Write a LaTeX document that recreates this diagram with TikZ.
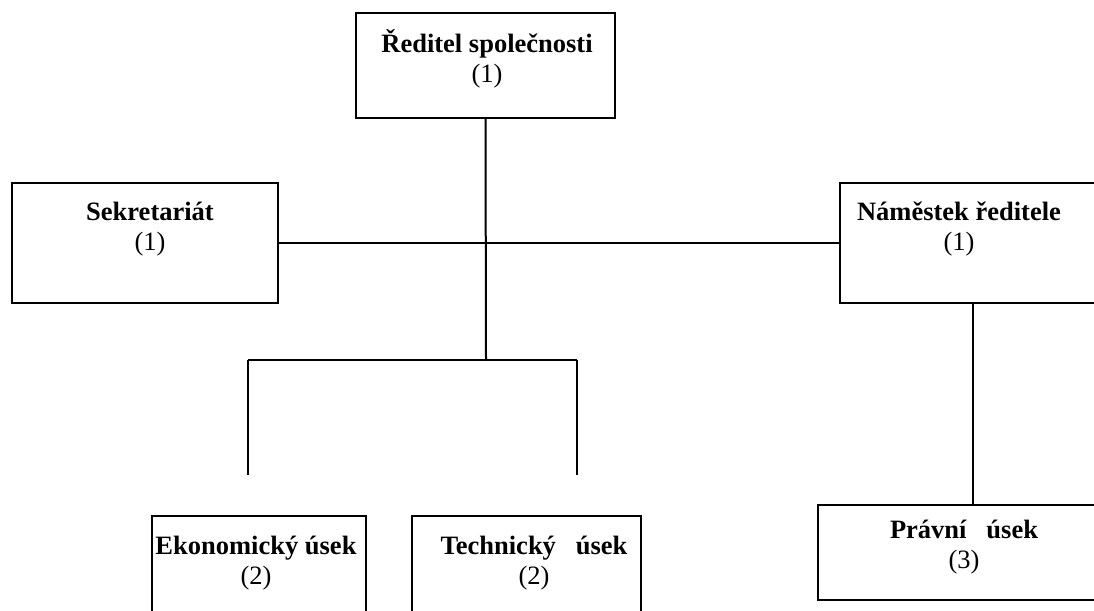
\documentclass[tikz,border=0pt]{standalone}
\usepackage{fontspec}
\setmainfont{Liberation Serif}
\begin{document}
\begin{tikzpicture}[x=1pt,y=-1pt,
  box/.style={draw, line width=2pt, rectangle, inner sep=0pt},
  lbl/.style={font=\fontsize{26.5}{30}\selectfont, align=center, inner sep=0pt},
  conn/.style={line width=2pt}]
\useasboundingbox (0,0) rectangle (1094,610);
\clip (0,0) rectangle (1094,610);
% boxes
\node[box, minimum width=259pt, minimum height=105pt] (dir) at (485.5,65.5) {};
\node[box, minimum width=266pt, minimum height=120pt] (sek) at (145,243) {};
\node[box, minimum width=266pt, minimum height=120pt] (nam) at (973,243) {};
\node[box, minimum width=214pt, minimum height=130pt] (eko) at (259,581) {};
\node[box, minimum width=229pt, minimum height=130pt] (tech) at (526.5,581) {};
\node[box, minimum width=310pt, minimum height=95pt] (pra) at (973,552.5) {};
% labels
\node[lbl] (tdir) at (487,59) {\textbf{Ředitel společnosti}\\(1)};
\node[lbl] (tsek) at (150,229) {\textbf{Sekretariát}\\(1)};
\node[lbl] (tnam) at (959,229) {\textbf{Náměstek ředitele}\\(1)};
\node[lbl] (teko) at (256,563) {\textbf{Ekonomický úsek}\\(2)};
\node[lbl] (ttech) at (534,563) {\textbf{Technický\ \ \ úsek}\\(2)};
\node[lbl] (tpra) at (964,547) {\textbf{Právní\ \ \ úsek}\\(3)};
% junctions
\coordinate (j1) at (486,360);
\coordinate (cl) at (248,360);
\coordinate (cr) at (577,360);
\coordinate (el) at (248,475);
\coordinate (er) at (577,475);
% connectors
\draw[conn] (dir.south) -- (j1);
\draw[conn] (sek.east) -- (nam.west);
\draw[conn] (cl) -- (cr);
\draw[conn] (cl) -- (el);
\draw[conn] (cr) -- (er);
\draw[conn] (nam.south) -- (nam.south |- pra.north);
\end{tikzpicture}
\end{document}
